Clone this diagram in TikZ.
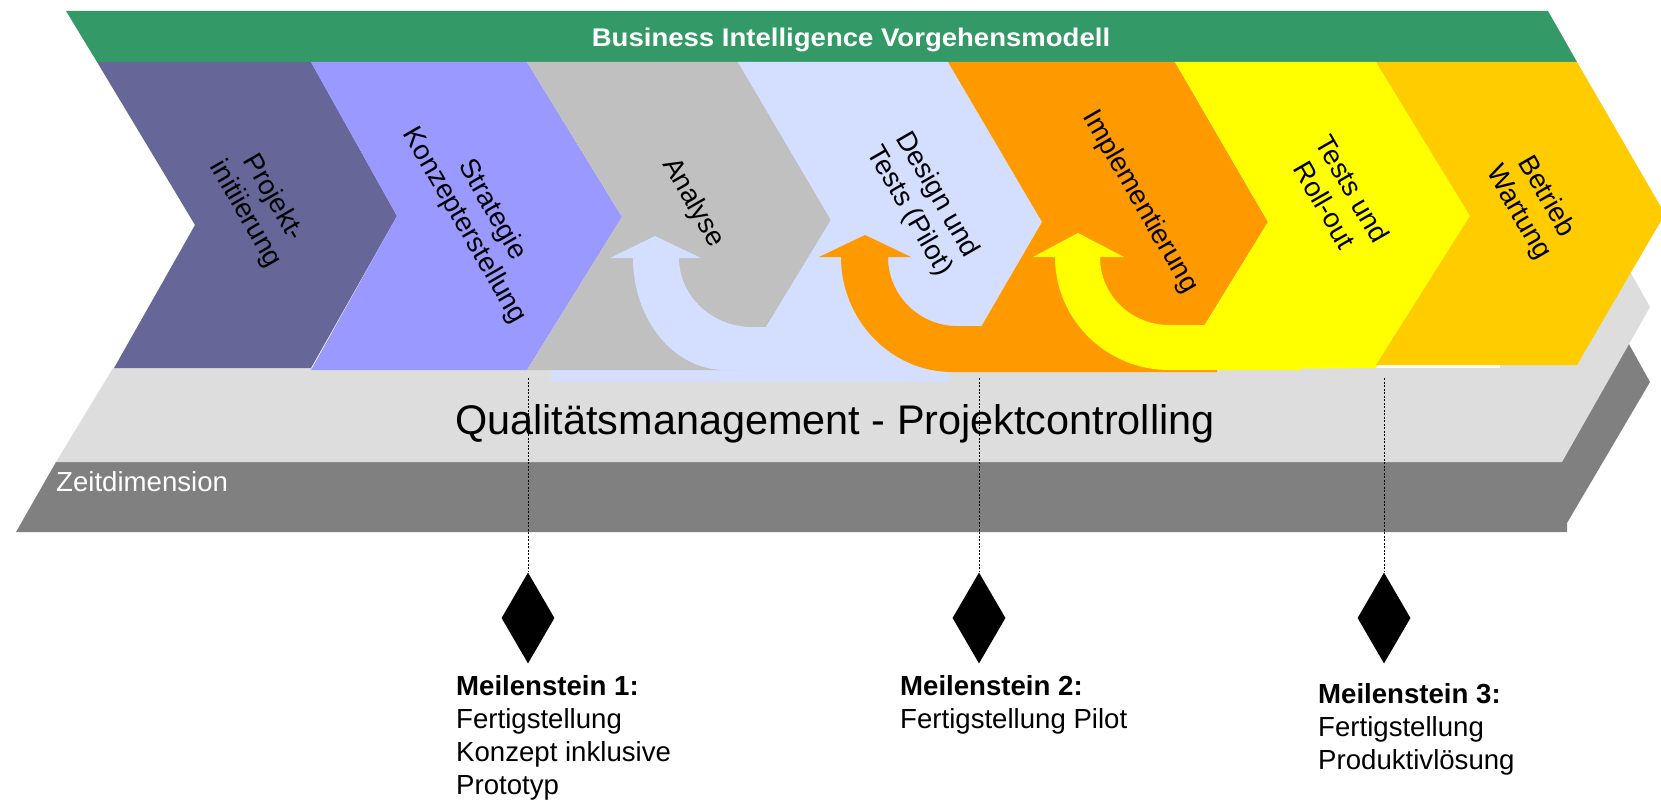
\documentclass[tikz,border=0pt]{standalone}
\usepackage{fontspec}
\setmainfont{Liberation Sans}
\usetikzlibrary{shapes.geometric}

\definecolor{bigreen}{HTML}{339966}
\definecolor{phaseA}{HTML}{666699}
\definecolor{phaseB}{HTML}{9999FF}
\definecolor{phaseC}{HTML}{C0C0C0}
\definecolor{phaseD}{HTML}{D4DEFF}
\definecolor{phaseE}{HTML}{FF9900}
\definecolor{phaseF}{HTML}{FFFF00}
\definecolor{phaseG}{HTML}{FFCC00}
\definecolor{qmgray}{HTML}{DDDDDD}
\definecolor{zeitgray}{HTML}{808080}

\begin{document}
\begin{tikzpicture}[x=1pt, y=-1pt,
  phasetext/.style={rotate=-60, align=center, inner sep=0pt, font=\fontsize{27.6}{32}\selectfont},
  milestone/.style={diamond, fill=black, inner sep=0pt, minimum width=53pt, minimum height=91pt},
  mtext/.style={anchor=north west, align=left, inner sep=0pt, font=\fontsize{27.6}{33}\selectfont},
  guide/.style={dash pattern=on 2pt off 1.5pt, line width=1pt}]

\useasboundingbox (0,0) rectangle (1661,800);
\clip (0,0) rectangle (1661,800);

%bands
\fill[zeitgray] (56,462) -- (16,532) -- (1567,532) -- (1567,523) -- (1650,382) -- (1610,310) -- (1500,310) -- (1500,462) -- cycle;
\fill[qmgray] (113,368) -- (1500,368) -- (1500,250) -- (1618,250) -- (1650,307) -- (1562,462) -- (56,462) -- cycle;
\fill[bigreen] (66,11) -- (1548,11) -- (1577,62) -- (97,62) -- cycle;
\fill[phaseD] (551,365) rectangle (949,382);

%phases
\fill[phaseA] (97,62) -- (311,62) -- (397,216) -- (311,368) -- (114,368) -- (195,225) -- cycle;
\fill[phaseB] (311,62) -- (527,62) -- (622,217) -- (527,370) -- (311,370) -- (397,216) -- cycle;
\fill[phaseC] (527,62) -- (738,62) -- (831,220) -- (740,370) -- (527,370) -- (622,217) -- cycle;
\fill[phaseD] (738,62) -- (948,62) -- (1042,222) -- (956,370) -- (740,370) -- (831,220) -- cycle;
\fill[phaseE] (948,62) -- (1175,62) -- (1268,222) -- (1177,370) -- (956,370) -- (1042,222) -- cycle;
\fill[phaseF] (1175,62) -- (1376,62) -- (1470,216) -- (1376,368) -- (1177,370) -- (1268,222) -- cycle;
\fill[phaseG] (1376,62) -- (1577,62) -- (1665,214) -- (1577,365) -- (1376,365) -- (1470,216) -- cycle;

%u-turn arrows
\fill[phaseD] (655,236) -- (701,258) -- (679,258) .. controls (679,296) and (712,327) .. (752,327) -- (940,327) -- (940,370) -- (725,370) .. controls (674,370) and (633,320) .. (633,258) -- (610,258) -- cycle;
\fill[phaseE] (865,235) -- (911,257) -- (888,257) .. controls (888,295) and (919,326) .. (957,326) -- (1217,326) -- (1217,372) -- (952,372) .. controls (891,372) and (841,320) .. (841,257) -- (819,257) -- cycle;
\fill[phaseF] (1078,233) -- (1124,257) -- (1100,257) .. controls (1100,295) and (1131,325) .. (1169,325) -- (1300,325) -- (1300,370) -- (1169,370) .. controls (1106,370) and (1055,319) .. (1055,257) -- (1033,257) -- cycle;

\node[font=\bfseries\fontsize{25.5}{28}\selectfont, text=white, xscale=1.08, anchor=base, inner sep=0pt] (title) at (851,47) {Business Intelligence Vorgehensmodell};

\node[phasetext] (pa) at (259,206) {Projekt-\\initiierung};
\node[phasetext] (pb) at (478,218) {Strategie\\Konzepterstellung};
\node[phasetext] (pc) at (693,203) {Analyse};
\node[phasetext] (pd) at (923,203) {Design und\\Tests (Pilot)};
\node[phasetext] (pe) at (1140,202) {Implementierung};
\node[phasetext] (pf) at (1339,197) {Tests und\\Roll-out};
\node[phasetext] (pg) at (1532,205) {Betrieb\\Wartung};

\node[font=\fontsize{41.4}{48}\selectfont, anchor=base, inner sep=0pt] (qm) at (835,434) {Qualitätsmanagement - Projektcontrolling};
\node[font=\fontsize{27.6}{32}\selectfont, text=white, anchor=base west, inner sep=0pt] (zeit) at (56,491) {Zeitdimension};

%milestones
\node[milestone] (ms1) at (528,618) {};
\node[milestone] (ms2) at (979,618) {};
\node[milestone] (ms3) at (1384,618) {};
\coordinate (g1) at (528,378);
\coordinate (g2) at (979,378);
\coordinate (g3) at (1384,378);
\path[draw,guide] (g1) -- (ms1);
\path[draw,guide] (g2) -- (ms2);
\path[draw,guide] (g3) -- (ms3);

\node[mtext] (mt1) at (456,675) {\textbf{Meilenstein 1:}\\Fertigstellung\\Konzept inklusive\\Prototyp};
\node[mtext] (mt2) at (900,675) {\textbf{Meilenstein 2:}\\Fertigstellung Pilot};
\node[mtext] (mt3) at (1318,683) {\textbf{Meilenstein 3:}\\Fertigstellung\\Produktivlösung};
\end{tikzpicture}
\end{document}
